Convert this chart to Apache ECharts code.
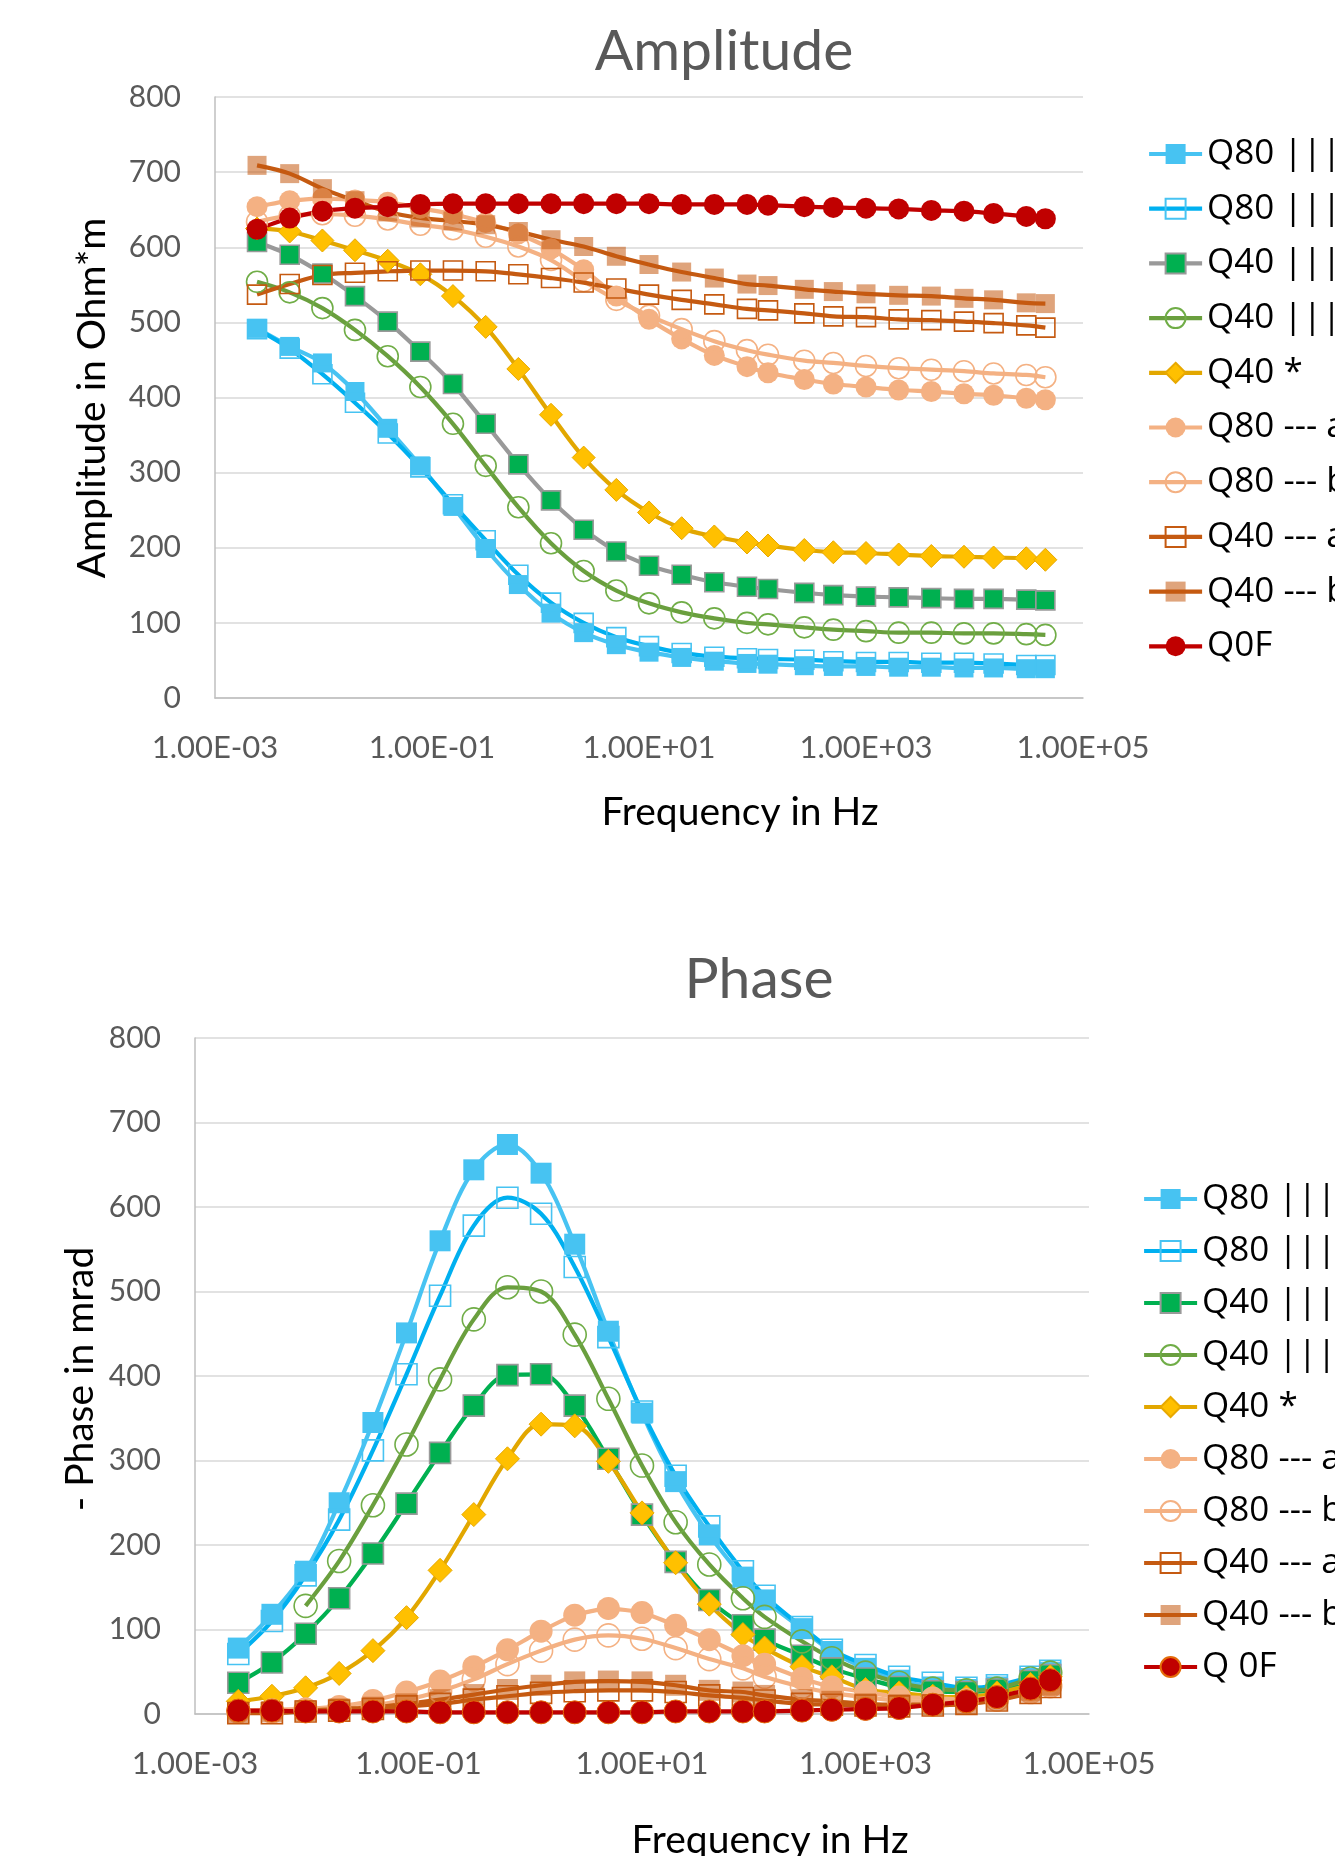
<!DOCTYPE html>
<html>
<head>
<meta charset="utf-8">
<script src="https://cdn.jsdelivr.net/npm/echarts@6/dist/echarts.min.js"></script>
<style>
html,body{margin:0;padding:0;background:#fff;}
#c1{position:absolute;left:0;top:0;width:1335px;height:900px;}
#c2{position:absolute;left:0;top:900px;width:1335px;height:956px;}
</style>
</head>
<body>
<div id="c1"></div>
<div id="c2"></div>
<script>
// ---------- DATA ----------
const freqHz = [0.00244, 0.00488, 0.00977, 0.0195, 0.0391, 0.0781, 0.156, 0.3125, 0.625, 1.25, 2.5, 5, 10, 20, 40, 80, 125, 270, 500, 1000, 2000, 4000, 8000, 15000, 30000, 45000];

const xTickExponents = [-3, -1, 1, 3, 5];
const xTickLabels = ['1.00E-03', '1.00E-01', '1.00E+01', '1.00E+03', '1.00E+05'];

const ampNames = ['Q80 ||| a', 'Q80 ||| b', 'Q40 ||| a', 'Q40 ||| b', 'Q40 *', 'Q80 --- a', 'Q80 --- b', 'Q40 --- a', 'Q40 --- b', 'Q0F'];
const phaseNames = ['Q80 ||| a', 'Q80 ||| b', 'Q40 ||| a', 'Q40 ||| b', 'Q40 *', 'Q80 --- a', 'Q80 --- b', 'Q40 --- a', 'Q40 --- b', 'Q 0F'];

// Amplitude in Ohm*m
const ampQ80ParA  = [492, 468, 446, 408, 359, 309, 255, 199, 151, 113, 87, 71, 61, 54, 49, 46, 45, 43, 42, 42, 41, 41, 40, 40, 39, 39];
const ampQ80ParB  = [491, 465, 431, 393, 352, 307, 258, 210, 164, 127, 100, 81, 69, 60, 55, 53, 52, 51, 49, 48, 48, 47, 47, 46, 44, 44];
const ampQ40ParA  = [607, 590, 565, 535, 501, 461, 418, 365, 311, 263, 224, 195, 176, 164, 154, 148, 145, 140, 137, 135, 134, 133, 132, 132, 131, 130];
const ampQ40ParB  = [554, 540, 519, 490, 455, 414, 365, 309, 254, 206, 169, 143, 126, 114, 106, 100, 98, 94, 91, 89, 87, 87, 86, 86, 85, 84];
const ampQ40Star  = [625, 621, 609, 596, 582, 564, 535, 494, 438, 377, 320, 277, 247, 226, 215, 207, 203, 197, 194, 193, 191, 189, 188, 187, 186, 184];
const ampQ80PerpA = [654, 662, 665, 663, 660, 652, 644, 633, 618, 598, 570, 535, 504, 478, 456, 441, 433, 424, 418, 414, 410, 408, 405, 403, 399, 397];
const ampQ80PerpB = [634, 642, 644, 642, 637, 630, 624, 614, 601, 583, 555, 530, 509, 491, 475, 463, 457, 449, 446, 442, 439, 437, 435, 432, 430, 427];
const ampQ40PerpA = [537, 551, 563, 566, 568, 569, 569, 568, 564, 559, 553, 545, 537, 530, 524, 518, 516, 512, 508, 507, 504, 503, 501, 499, 496, 493];
const ampQ40PerpB = [709, 698, 678, 662, 647, 639, 635, 630, 621, 610, 601, 588, 577, 567, 559, 551, 549, 544, 541, 538, 536, 535, 532, 530, 526, 525];
const ampQ0F      = [624, 639, 648, 652, 654, 657, 658, 658, 658, 658, 658, 658, 658, 657, 657, 657, 656, 654, 653, 652, 651, 649, 648, 645, 641, 638];

// - Phase in mrad
const phsQ80ParA  = [78, 118, 169, 250, 345, 451, 560, 644, 674, 640, 556, 453, 356, 275, 212, 162, 135, 101, 74, 54, 40, 32, 29, 32, 42, 49];
const phsQ80ParB  = [71, 110, 164, 230, 312, 402, 495, 578, 611, 592, 529, 446, 358, 282, 222, 169, 140, 103, 76, 58, 44, 37, 31, 34, 44, 51];
const phsQ40ParA  = [37, 61, 95, 137, 190, 249, 309, 365, 401, 402, 365, 302, 236, 180, 135, 105, 88, 69, 54, 42, 32, 27, 26, 29, 39, 46];
const phsQ40ParB  = [null, null, 128, 181, 247, 319, 396, 467, 505, 500, 449, 373, 294, 227, 177, 137, 115, 86, 66, 49, 37, 30, 28, 30, 42, 49];
const phsQ40Star  = [15, 21, 31, 48, 75, 114, 170, 236, 302, 343, 341, 299, 238, 179, 130, 94, 78, 56, 44, 29, 25, 21, 20, 25, 35, 44];
const phsQ80PerpA = [4, 5, 6, 9, 16, 26, 39, 56, 76, 98, 117, 125, 120, 105, 88, 69, 59, 42, 32, 26, 20, 19, 17, 20, 27, 34];
const phsQ80PerpB = [3, 3, 5, 6, 10, 17, 27, 41, 59, 75, 88, 93, 89, 78, 65, 54, 44, 32, 25, 20, 16, 15, 15, 17, 26, 33];
const phsQ40PerpA = [1, 1, 3, 4, 6, 9, 12, 17, 21, 25, 27, 28, 28, 26, 22, 19, 16, 12, 11, 10, 9, 10, 12, 16, 25, 32];
const phsQ40PerpB = [2, 3, 4, 6, 8, 12, 17, 23, 29, 34, 38, 39, 38, 34, 28, 26, 22, 17, 15, 12, 11, 11, 12, 17, 27, 34];
const phsQ0F      = [4, 4, 3, 3, 3, 3, 2, 2, 2, 2, 2, 2, 2, 3, 3, 3, 3, 4, 5, 6, 7, 11, 15, 20, 30, 40];

const ampValues = [ampQ80ParA, ampQ80ParB, ampQ40ParA, ampQ40ParB, ampQ40Star, ampQ80PerpA, ampQ80PerpB, ampQ40PerpA, ampQ40PerpB, ampQ0F];
const phsValues = [phsQ80ParA, phsQ80ParB, phsQ40ParA, phsQ40ParB, phsQ40Star, phsQ80PerpA, phsQ80PerpB, phsQ40PerpA, phsQ40PerpB, phsQ0F];

// ---------- STYLES ----------
const CLEAR = 'rgba(0,0,0,0)';
const LINE_W = 4.2;
const ampStyles = [
  {sym:'rect', fill:'#47C3F2', border:'#47C3F2', bw:0, line:'#47C3F2', smooth:0.35},
  {sym:'rect', fill:CLEAR, border:'#47C3F2', bw:1.6, line:'#00B0F0', smooth:0.35},
  {sym:'rect', fill:'#00B050', border:'#999999', bw:1.6, line:'#999999', smooth:0.15},
  {sym:'circle', fill:CLEAR, border:'#70AD47', bw:1.6, line:'#6A9F3E', smooth:0.35},
  {sym:'diamond', fill:'#FFC000', border:'#E8A900', bw:1, line:'#E2A700', smooth:0.35},
  {sym:'circle', fill:'#F4B183', border:'#F4B183', bw:0, line:'#F4B183', smooth:0.15},
  {sym:'circle', fill:CLEAR, border:'#F4B183', bw:1.6, line:'#F4B183', smooth:0.35},
  {sym:'rect', fill:CLEAR, border:'#C55A11', bw:1.6, line:'#C55A11', smooth:0.35},
  {sym:'rect', fill:'rgba(197,90,17,0.55)', border:'rgba(197,90,17,0)', bw:0, line:'#C55A11', smooth:0.35},
  {sym:'circle', fill:'#C00000', border:'#C00000', bw:0, line:'#C00000', smooth:0.15}
];
const phsStyles = ampStyles.map((s, i) => {
  const c = Object.assign({}, s);
  if (i === 2) { c.line = '#00B050'; c.smooth = 0.35; }
  if (i === 9) { c.border = '#E46C0A'; c.bw = 1; }
  return c;
});

function symSize(sym, big) {
  if (sym === 'diamond') return big ? 24 : 23;
  if (sym === 'circle') return big ? 23 : 21;
  return big ? 21 : 19;
}

function buildSeries(names, values, styles, big) {
  return names.map((name, k) => {
    const st = styles[k];
    return {
      name: name,
      type: 'line',
      data: freqHz.map((f, i) => [f, values[k][i]]),
      symbol: st.sym,
      symbolSize: symSize(st.sym, big),
      showAllSymbol: true,
      smooth: st.smooth,
      clip: false,
      lineStyle: {color: st.line, width: LINE_W},
      itemStyle: {color: st.fill, borderColor: st.border, borderWidth: st.bw},
      emphasis: {disabled: true}
    };
  });
}

function xLabel(v) {
  const e = Math.round(Math.log10(v));
  const idx = xTickExponents.indexOf(e);
  return idx >= 0 ? xTickLabels[idx] : '';
}

function textEl(text, x, y, size, color, rot) {
  return {
    type: 'text', x: x, y: y, rotation: rot || 0, silent: true,
    style: {text: text, fontFamily: 'Lato', fontSize: size, fill: color, align: 'center', verticalAlign: 'middle'}
  };
}

function buildOption(cfg) {
  return {
    animation: false,
    backgroundColor: '#ffffff',
    textStyle: {fontFamily: 'Lato'},
    grid: {left: cfg.grid.left, top: cfg.grid.top, width: cfg.grid.width, height: cfg.grid.height, outerBoundsMode: 'none', containLabel: false},
    xAxis: {
      type: 'log', logBase: 10, min: 0.001, max: 100000,
      axisLine: {show: true, onZero: false, lineStyle: {color: '#BFBFBF', width: 1.5}},
      axisTick: {show: false},
      splitLine: {show: false},
      minorTick: {show: false},
      axisLabel: {formatter: xLabel, fontFamily: 'Lato', fontSize: 31, color: '#595959', margin: 34, showMinLabel: true, showMaxLabel: true, hideOverlap: false}
    },
    yAxis: {
      type: 'value', min: 0, max: 800, interval: 100,
      axisLine: {show: true, lineStyle: {color: '#BFBFBF', width: 1.5}},
      axisTick: {show: false},
      splitLine: {show: true, lineStyle: {color: '#D9D9D9', width: 1.5}},
      axisLabel: {fontFamily: 'Lato', fontSize: 30, color: '#595959', margin: 34}
    },
    legend: {
      orient: 'vertical', left: cfg.legend.left, top: cfg.legend.top, padding: 0,
      itemWidth: 53, itemHeight: 25, itemGap: cfg.legend.gap,
      selectedMode: false,
      lineStyle: {width: LINE_W},
      textStyle: {fontFamily: 'Open Sans', fontSize: 35, color: '#000000', lineHeight: 40},
      data: cfg.names
    },
    graphic: cfg.texts,
    series: cfg.series
  };
}

const chart1 = echarts.init(document.getElementById('c1'), null, {renderer: 'canvas'});
chart1.setOption(buildOption({
  grid: {left: 215, top: 97, width: 868, height: 601},
  legend: {left: 1147, top: 134, gap: 14.7},
  names: ampNames,
  texts: [
    textEl('Amplitude', 724, 52, 57, '#595959'),
    textEl('Frequency in Hz', 740, 812, 39, '#000000'),
    textEl('Amplitude in Ohm*m', 92, 398, 39, '#000000', Math.PI / 2)
  ],
  series: buildSeries(ampNames, ampValues, ampStyles, false)
}));

const chart2 = echarts.init(document.getElementById('c2'), null, {renderer: 'canvas'});
chart2.setOption(buildOption({
  grid: {left: 195, top: 138, width: 894, height: 676},
  legend: {left: 1142, top: 279, gap: 12},
  names: phaseNames,
  texts: [
    textEl('Phase', 759, 80, 57, '#595959'),
    textEl('Frequency in Hz', 770, 940, 39, '#000000'),
    textEl('- Phase in mrad', 80, 479, 39, '#000000', Math.PI / 2)
  ],
  series: buildSeries(phaseNames, phsValues, phsStyles, true)
}));
</script>
</body>
</html>
